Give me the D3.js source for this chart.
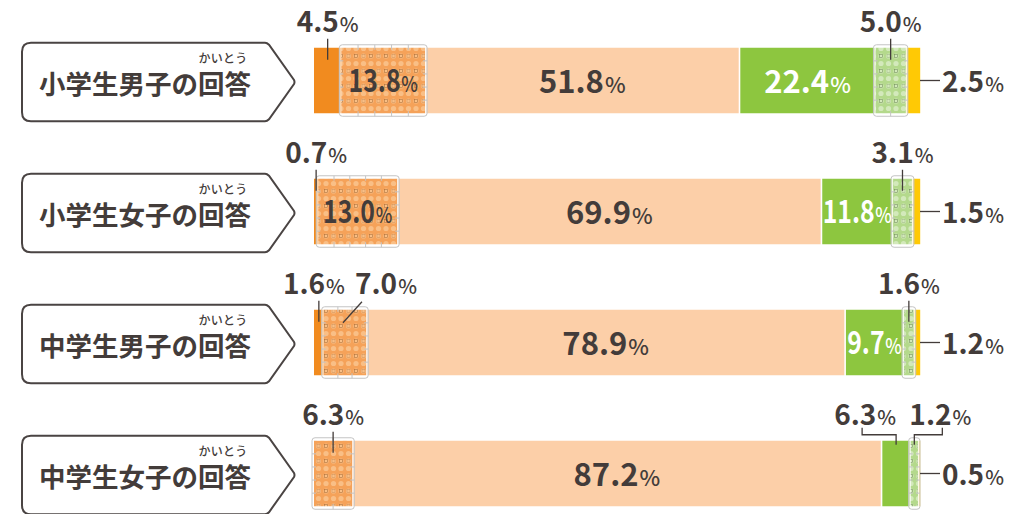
<!DOCTYPE html>
<html lang="ja">
<head>
<meta charset="UTF-8" />
<title>回答の割合</title>
<style>
  body { margin: 0; background: #fff; }
  svg text { font-family: "Noto Sans CJK JP", "Noto Sans", sans-serif; }
</style>
</head>
<body>
<div id="chart"></div>
<script src="https://cdn.jsdelivr.net/npm/d3@7"></script>
<script>
// rows of the chart
var rows = ["小学生男子の回答", "小学生女子の回答", "中学生男子の回答", "中学生女子の回答"];
var ruby = "かいとう";

// segment values per row (percent), left to right
var darkOrange  = [4.5, 0.7, 1.6, 0];
var orangeDots  = [13.8, 13.0, 7.0, 6.3];
var peach       = [51.8, 69.9, 78.9, 87.2];
var green       = [22.4, 11.8, 9.7, 4.8];
var greenDots   = [5.0, 3.1, 1.6, 1.2];
var yellow      = [2.5, 1.5, 1.2, 0.5];

// printed labels (row 4 green is printed as 6.3)
var labelText = [
  ["4.5", "13.8", "51.8", "22.4", "5.0", "2.5"],
  ["0.7", "13.0", "69.9", "11.8", "3.1", "1.5"],
  ["1.6", "7.0", "78.9", "9.7", "1.6", "1.2"],
  ["", "6.3", "87.2", "6.3", "1.2", "0.5"]
];

var series = [darkOrange, orangeDots, peach, green, greenDots, yellow];
var fills = ["#F18B1F", "url(#dotsOrange)", "#FCCFA8", "#8DC63F", "url(#dotsGreen)", "#FFC905"];
var patterned = [false, true, false, false, true, false];

// how each label is put: above / inside / right / bracket
var place = [
  ["above", "insideC", "inside", "insideW", "above", "right"],
  ["above", "insideC", "inside", "insideWC", "above", "right"],
  ["aboveL", "diag", "inside", "insideWC", "above", "right"],
  ["none", "above", "inside", "bracketL", "bracketR", "right"]
];

var width = 1016, height = 514;
var ink = "#433c3a";

var svg = d3.select("#chart").append("svg")
  .attr("width", width).attr("height", height);

var defs = svg.append("defs");
function dotPattern(id, base, dot, sq) {
  var p = defs.append("pattern").attr("id", id)
    .attr("patternUnits", "userSpaceOnUse")
    .attr("width", 15).attr("height", 15);
  p.append("rect").attr("width", 15).attr("height", 15).attr("fill", base);
  [[3.5, 3.5], [11, 3.5], [3.5, 11], [11, 11]].forEach(function(c) {
    p.append("circle").attr("cx", c[0]).attr("cy", c[1]).attr("r", 2.6)
      .attr("fill", dot).attr("opacity", 0.75);
  });
  p.append("rect").attr("x", 9.5).attr("y", 9.5).attr("width", 3).attr("height", 3)
    .attr("fill", "none").attr("stroke", sq).attr("stroke-width", 0.6).attr("opacity", 0.8);
  p.append("rect").attr("x", 2).attr("y", 9.5).attr("width", 3).attr("height", 3)
    .attr("fill", "none").attr("stroke", sq).attr("stroke-width", 0.5).attr("opacity", 0.5);
}
dotPattern("dotsOrange", "#F5A259", "#FAC895", "#9c5a22");
dotPattern("dotsGreen", "#B4D98C", "#DDEFCB", "#5b7a40");

var x = d3.scaleLinear().domain([0, 100]).range([314, 921]);
var y = d3.scaleBand().domain(rows).range([15, 539]).paddingInner(0.5).paddingOuter(0.25);
var bh = y.bandwidth();

// left arrow-shaped label boxes
function boxPath(top) {
  var l = 22, r = 267, tip = 295, t = top - 5, b = top + bh + 8, m = (t + b) / 2, k = 9;
  return "M" + (l + k) + "," + t + " H" + (r - 2) + " Q" + r + "," + t + " " + (r + 2) + "," + (t + 2) +
    " L" + (tip - 1) + "," + (m - 2) + " Q" + tip + "," + m + " " + (tip - 1) + "," + (m + 2) +
    " L" + (r + 2) + "," + (b - 2) + " Q" + r + "," + b + " " + (r - 2) + "," + b +
    " H" + (l + k) + " Q" + l + "," + b + " " + l + "," + (b - k) +
    " V" + (t + k) + " Q" + l + "," + t + " " + (l + k) + "," + t + " Z";
}

rows.forEach(function(name, ri) {
  var top = y(name), mid = top + bh / 2;
  var g = svg.append("g");

  g.append("path").attr("d", boxPath(top))
    .attr("fill", "#fff").attr("stroke", "#4a4443").attr("stroke-width", 2);
  g.append("text").attr("x", 39).attr("y", mid + 13)
    .attr("font-size", 26.5).attr("font-weight", 700).attr("fill", ink).text(name);
  g.append("text").attr("x", 223).attr("y", mid - 17.5).attr("text-anchor", "middle")
    .attr("font-size", 12).attr("font-weight", 500).attr("letter-spacing", 0.3)
    .attr("fill", ink).text(ruby);

  // segments
  var acc = 0, segs = [];
  series.forEach(function(s, si) {
    segs.push({ i: si, x0: acc, x1: acc + s[ri], v: s[ri] });
    acc += s[ri];
  });

  segs.forEach(function(d) {
    if (d.v <= 0 || patterned[d.i]) return;
    var x0 = x(d.x0), w = x(d.x1) - x(d.x0);
    g.append("rect").attr("x", x0 + (d.i > 0 ? 0.8 : 0)).attr("y", top)
      .attr("width", Math.max(w - (d.i > 0 ? 1.6 : 0), 1)).attr("height", bh)
      .attr("fill", fills[d.i]);
  });

  // patterned segments drawn on top with a stamp-like frame
  segs.forEach(function(d) {
    if (d.v <= 0 || !patterned[d.i]) return;
    var x0 = x(d.x0), w = x(d.x1) - x(d.x0);
    g.append("rect").attr("x", x0 - 2).attr("y", top - 3).attr("width", w + 4).attr("height", bh + 6)
      .attr("rx", 3).attr("fill", "#fff").attr("opacity", 0.6);
    g.append("rect").attr("x", x0).attr("y", top).attr("width", w).attr("height", bh)
      .attr("fill", fills[d.i]);
    g.append("rect").attr("x", x0 - 2).attr("y", top - 3).attr("width", w + 4).attr("height", bh + 6)
      .attr("rx", 3).attr("fill", "none").attr("stroke", "#c4c4c4").attr("stroke-width", 1);
    var n = Math.max(1, Math.round(w / 16));
    for (var k = 1; k < n; k++) {
      var tx = x0 + k * w / n;
      g.append("path").attr("d", "M" + tx + "," + (top - 3) + " v5 M" + tx + "," + (top + bh + 3) + " v-5")
        .attr("stroke", "#c4c4c4").attr("stroke-width", 1);
    }
    for (var j = 1; j < 5; j++) {
      var ty = top + j * bh / 5;
      g.append("path").attr("d", "M" + (x0 - 2) + "," + ty + " h4 M" + (x0 + w + 2) + "," + ty + " h-4")
        .attr("stroke", "#c4c4c4").attr("stroke-width", 1);
    }
  });

  // labels
  function label(cx, by, txt, color, big, condensed) {
    var t = g.append("text").attr("x", cx).attr("y", by).attr("text-anchor", "middle")
      .attr("fill", color).attr("font-weight", 700);
    t.append("tspan").attr("font-size", big ? 31 : 28).text(txt);
    t.append("tspan").attr("font-size", big ? 22 : 20).attr("font-weight", 500).attr("dx", 1).text("%");
    if (condensed) t.attr("transform", "translate(" + cx + ",0) scale(0.8,1) translate(" + (-cx) + ",0)");
    return t;
  }
  function line(d) {
    g.append("path").attr("d", d).attr("fill", "none")
      .attr("stroke", ink).attr("stroke-width", 1.3);
  }

  segs.forEach(function(d) {
    var p = place[ri][d.i], txt = labelText[ri][d.i];
    var cx = (x(d.x0) + x(d.x1)) / 2;
    if (p === "none") return;
    if (p === "above" || p === "aboveL") {
      label(cx + (p === "aboveL" ? -5 : 0), top - 16, txt, ink);
      line("M" + cx + "," + (top - 9) + " V" + (top + 12));
    } else if (p === "diag") {
      label(cx + 41, top - 16, txt, ink);
      line("M" + (cx + 17) + "," + (top - 8) + " L" + (cx - 2) + "," + (top + 13));
    } else if (p === "inside" || p === "insideC") {
      label(cx, mid + 12, txt, ink, true, p === "insideC");
    } else if (p === "insideW" || p === "insideWC") {
      label(cx, mid + 12, txt, "#fff", true, p === "insideWC");
    } else if (p === "right") {
      line("M" + (x(100) - 1) + "," + mid + " H" + 940);
      var t = g.append("text").attr("x", 942).attr("y", mid + 11).attr("fill", ink).attr("font-weight", 700);
      t.append("tspan").attr("font-size", 28).text(txt);
      t.append("tspan").attr("font-size", 20).attr("font-weight", 500).attr("dx", 1).text("%");
    } else if (p === "bracketL") {
      label(cx - 31, top - 16, txt, ink);
      line("M" + (cx - 34) + "," + (top - 13) + " V" + (top - 6) + " H" + cx + " V" + (top + 4));
    } else if (p === "bracketR") {
      label(cx + 26, top - 16, txt, ink);
      line("M" + cx + "," + (top + 4) + " V" + (top - 6) + " H" + (cx + 28) + " V" + (top - 13));
    }
  });
});
</script>
</body>
</html>
